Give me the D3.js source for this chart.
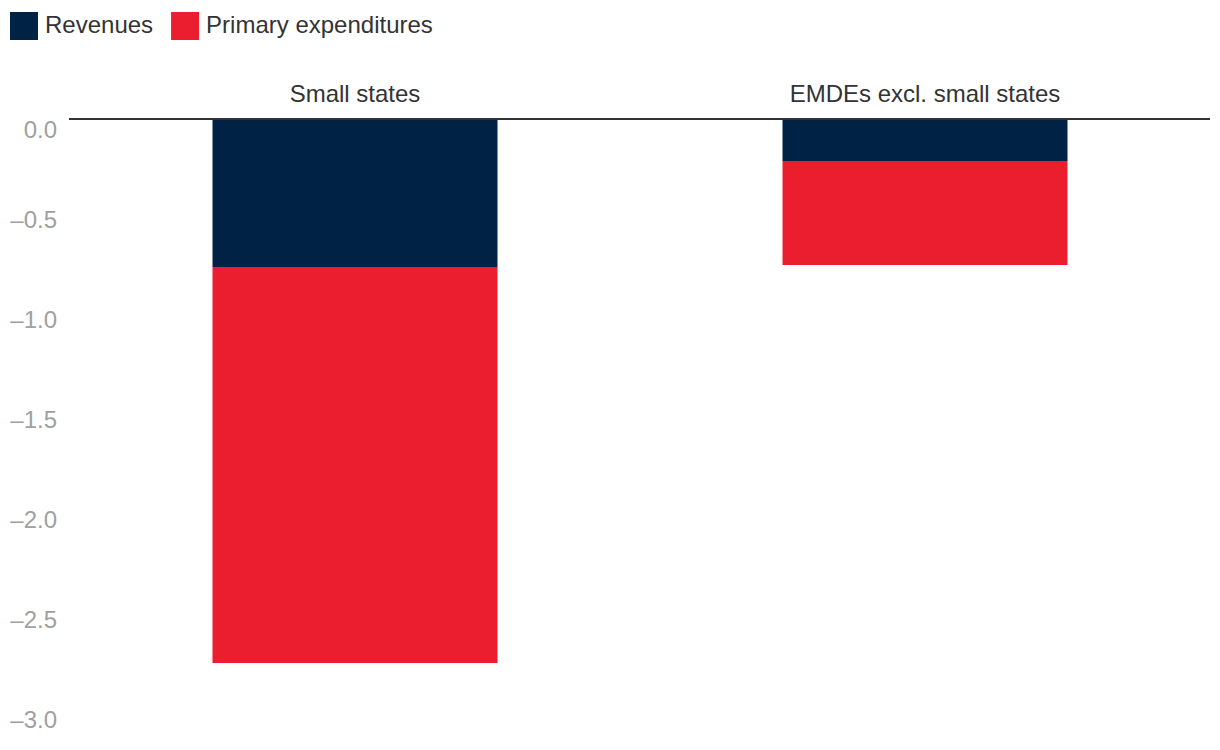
<!DOCTYPE html>
<html>
<head>
<meta charset="utf-8">
<script src="https://cdn.jsdelivr.net/npm/d3@7"></script>
<style>
  html, body { margin: 0; padding: 0; background: #fff; }
  svg { display: block; font-family: "Liberation Sans", Arial, Helvetica, sans-serif; }
</style>
</head>
<body>
<svg id="chart" width="1220" height="750"></svg>
<script>
const categories = ["Small states", "EMDEs excl. small states"];
const seriesNames = ["Revenues", "Primary expenditures"];
const revenues = [-0.74, -0.21];
const primaryExpenditures = [-1.98, -0.52];
const yTicks = [0, -0.5, -1, -1.5, -2, -2.5, -3];
const colors = ["#002245", "#EB1E2F"];

const svg = d3.select("#chart");
const W = 1220, H = 750;
const margin = { left: 70, right: 10, top: 119, bottom: 31 };

const rows = categories.map((c, i) => ({
  cat: c,
  "Revenues": revenues[i],
  "Primary expenditures": primaryExpenditures[i]
}));

const stack = d3.stack().keys(seriesNames).offset(d3.stackOffsetDiverging);
const stacked = stack(rows);

const x = d3.scaleBand().domain(categories).range([margin.left, W - margin.right]).paddingInner(0.5).paddingOuter(0.25);
const y = d3.scaleLinear().domain([0, -3]).range([margin.top, H - margin.bottom]);

const fmt = v => (v < 0 ? "\u2013" : "") + d3.format(".1f")(Math.abs(v));

// y axis labels
const yAxis = d3.axisLeft(y).tickValues(yTicks).tickFormat(fmt).tickSize(0).tickPadding(13);
const gy = svg.append("g").attr("transform", `translate(${margin.left},0)`).call(yAxis);
gy.select(".domain").remove();
gy.selectAll("text")
  .attr("fill", "#a0a0a0")
  .style("font-size", "24px")
  .attr("dy", d => d === 0 ? "0.78em" : "0.35em")
  .attr("dx", "0");

// bars
svg.append("g").selectAll("g").data(stacked).join("g")
  .attr("fill", (d, i) => colors[i])
  .selectAll("rect").data(d => d).join("rect")
  .attr("x", d => x(d.data.cat))
  .attr("width", x.bandwidth())
  .attr("y", d => y(Math.max(d[0], d[1])))
  .attr("height", d => Math.abs(y(d[0]) - y(d[1])));

// zero line
svg.append("line")
  .attr("x1", margin.left - 1).attr("x2", W - margin.right)
  .attr("y1", y(0)).attr("y2", y(0))
  .attr("stroke", "#333").attr("stroke-width", 2);

// category labels on top
const xAxis = d3.axisTop(x).tickSize(0).tickPadding(17);
const gx = svg.append("g").attr("transform", `translate(0,${y(0)})`).call(xAxis);
gx.select(".domain").remove();
gx.selectAll("text").attr("fill", "#333").style("font-size", "24px");

// legend
const legend = svg.append("g").attr("transform", "translate(10,12)");
let lx = 0;
seriesNames.forEach((name, i) => {
  const g = legend.append("g").attr("transform", `translate(${lx},0)`);
  g.append("rect").attr("width", 28).attr("height", 28).attr("fill", colors[i]);
  const t = g.append("text").attr("x", 35).attr("y", 13).attr("dy", "0.35em")
    .attr("fill", "#333").style("font-size", "24px").text(name);
  lx += 35 + t.node().getComputedTextLength() + 18;
});
</script>
</body>
</html>
